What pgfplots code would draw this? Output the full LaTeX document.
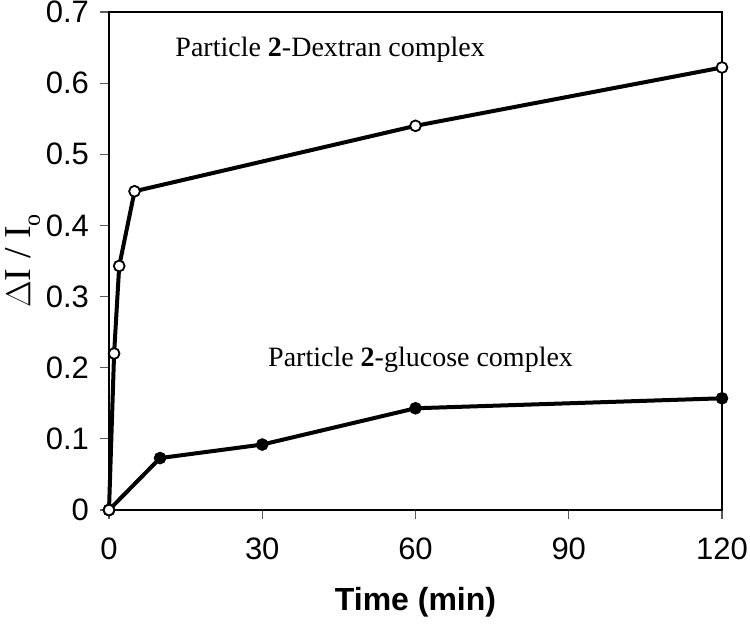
\documentclass[border=0pt]{standalone}
\usepackage{pgfplots}
\pgfplotsset{compat=1.18}
\usepackage{fontspec}
\setmainfont{Liberation Sans}
\newfontfamily\serif{Liberation Serif}
\begin{document}
\begin{tikzpicture}
\begin{axis}[
  scale only axis,
  width=306.5pt, height=249pt,
  xmin=0, xmax=120, ymin=0, ymax=0.7,
  xtick={0,30,60,90,120},
  ytick={0,0.1,0.2,0.3,0.4,0.5,0.6,0.7},
  yticklabels={0,0.1,0.2,0.3,0.4,0.5,0.6,0.7},
  tick align=outside,
  tick pos=left,
  major tick length=4.5pt,
  tick style={line width=0.6pt, gray!70!black},
  axis line style={line width=0.8pt},
  /pgf/number format/assume math mode=true,
  tick label style={font=\fontsize{15.5}{18}\selectfont},
  xticklabel style={yshift=-6pt},
  yticklabel style={xshift=-2pt},
  xlabel={\bfseries Time (min)},
  xlabel style={font=\fontsize{16}{19}\selectfont, yshift=-7pt},
  ylabel={\serif $\Delta$I / I\raisebox{-0.55ex}{\fontsize{12}{13}\selectfont o}},
  ylabel style={font=\fontsize{19}{22}\selectfont, yshift=-4pt},
  clip=false,
]
\addplot[line width=2pt, black, mark=*, mark size=2.7pt,
  mark options={fill=white, line width=0.9pt}]
  coordinates {(0,0) (1,0.22) (2,0.343) (5,0.448) (60,0.54) (120,0.622)};
\addplot[line width=2pt, black, mark=*, mark size=2.7pt,
  mark options={fill=black, line width=0.9pt}]
  coordinates {(0,0) (10,0.073) (30,0.092) (60,0.143) (120,0.157)};
\addplot[line width=0.9pt, black, mark=*, mark size=2.7pt, only marks,
  mark options={fill=white}] coordinates {(0,0)};
\node[font=\serif\fontsize{14}{17}\selectfont] at (axis cs:43.3,0.647) {Particle \textbf{2}-Dextran complex};
\node[font=\serif\fontsize{14}{17}\selectfont] at (axis cs:61,0.211) {Particle \textbf{2}-glucose complex};
\end{axis}
\pgfresetboundingbox
\path[use as bounding box] (-54.5pt,-58.5pt) rectangle (320.5pt,255pt);
\end{tikzpicture}
\end{document}
